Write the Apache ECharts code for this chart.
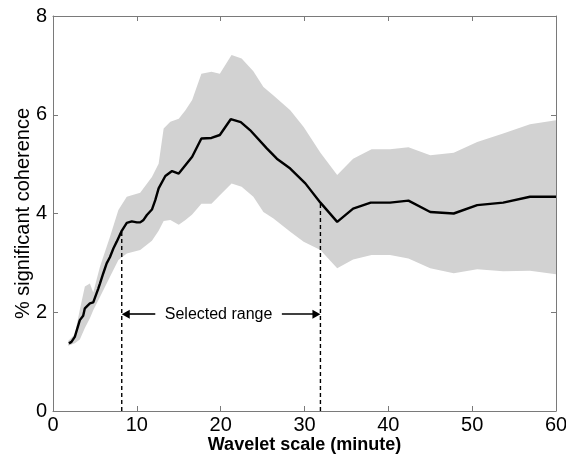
<!DOCTYPE html>
<html>
<head>
<meta charset="utf-8">
<script src="https://cdn.jsdelivr.net/npm/echarts@6/dist/echarts.min.js"></script>
<style>
html,body{margin:0;padding:0;background:#fff;}
#chart{width:566px;height:463px;}
</style>
</head>
<body>
<div id="chart"></div>
<script>
// Mean curve
const lineX = [1.9, 2.2, 2.6, 3.2, 3.6, 3.8, 4.4, 4.8, 5.4, 5.6, 6.0, 6.4, 6.8, 7.2, 7.6, 8.2, 8.8, 9.4, 10.0, 10.4, 10.8, 11.2, 11.8, 12.2, 12.6, 13.4, 14.2, 15.0, 16.6, 17.7, 18.9, 19.9, 21.2, 22.4, 23.5, 25.5, 26.7, 28.3, 30.1, 31.9, 33.9, 35.8, 37.9, 40.2, 42.4, 45.0, 47.8, 50.6, 53.7, 56.9, 60];
const lineY = [1.37, 1.40, 1.50, 1.84, 1.93, 2.08, 2.18, 2.20, 2.48, 2.58, 2.79, 2.99, 3.12, 3.29, 3.43, 3.65, 3.81, 3.84, 3.82, 3.82, 3.87, 3.97, 4.08, 4.27, 4.51, 4.76, 4.86, 4.81, 5.15, 5.52, 5.53, 5.59, 5.91, 5.85, 5.69, 5.32, 5.11, 4.91, 4.61, 4.22, 3.83, 4.10, 4.22, 4.22, 4.26, 4.03, 4.00, 4.17, 4.22, 4.34, 4.34];

// Shaded band
const bandX = [1.8, 2.6, 3.2, 3.8, 4.4, 4.8, 5.6, 6.8, 7.8, 8.8, 10.4, 11.8, 12.6, 13.2, 14.0, 15.0, 15.8, 16.6, 17.7, 18.9, 19.9, 21.3, 22.5, 23.9, 25.1, 26.3, 28.3, 29.9, 31.9, 33.9, 35.8, 38.0, 40.2, 42.4, 45.0, 47.8, 50.6, 53.7, 56.9, 60];
const bandUpper = [1.42, 1.55, 2.05, 2.52, 2.58, 2.40, 2.92, 3.53, 4.07, 4.34, 4.42, 4.74, 5.01, 5.72, 5.86, 5.92, 6.09, 6.30, 6.83, 6.87, 6.83, 7.21, 7.14, 6.88, 6.56, 6.39, 6.09, 5.75, 5.23, 4.78, 5.11, 5.30, 5.30, 5.34, 5.18, 5.23, 5.45, 5.62, 5.81, 5.89];
const bandLower = [1.32, 1.37, 1.45, 1.68, 1.88, 2.04, 2.31, 2.72, 3.06, 3.19, 3.26, 3.45, 3.65, 3.85, 3.87, 3.77, 3.87, 3.98, 4.20, 4.20, 4.37, 4.61, 4.54, 4.34, 4.03, 3.90, 3.63, 3.43, 3.26, 2.89, 3.07, 3.16, 3.16, 3.09, 2.89, 2.79, 2.87, 2.83, 2.84, 2.77];

// Selected range annotation
const rangeX = [8.2, 31.9];
const rangeTop = [3.65, 4.22];
const arrowY = 1.96;
const arrowInner = [12.2, 27.3];
const rangeLabel = 'Selected range';
const rangeLabelX = 19.75;

const xTicks = {min: 0, max: 60, interval: 10};
const yTicks = {min: 0, max: 8, interval: 2};

const FONT = 'Liberation Sans, Arial, sans-serif';
const AX = '#7a7a7a';
const GRID = {left: 53, right: 10, top: 16, bottom: 52};
const W = 566;
const HEAD = [9, 8]; // arrow head: width, length (px)

const chart = echarts.init(document.getElementById('chart'), null, {renderer: 'canvas'});

const bandData = bandX.map((x, i) => [x, bandLower[i], bandUpper[i]]);

// shift arrow ends so the tip (not the symbol centre) meets the dashed lines
const unitsPerPx = (xTicks.max - xTicks.min) / (W - GRID.left - GRID.right);
const tipShift = HEAD[1] / 2 * unitsPerPx;

const axisCommon = {
  axisLine: {show: true, onZero: false, lineStyle: {color: AX, width: 1}},
  axisTick: {show: true, inside: true, length: 5, lineStyle: {color: AX}},
  splitLine: {show: false},
  nameMoveOverlap: false
};

chart.setOption({
  animation: false,
  backgroundColor: '#fff',
  grid: Object.assign({containLabel: false, outerBoundsMode: 'none'}, GRID),
  xAxis: [
    Object.assign({
      type: 'value', min: xTicks.min, max: xTicks.max, interval: xTicks.interval,
      position: 'bottom',
      name: 'Wavelet scale (minute)', nameLocation: 'middle', nameGap: 25,
      nameTextStyle: {fontFamily: FONT, fontSize: 18, fontWeight: 'bold', color: '#000'},
      axisLabel: {fontFamily: FONT, fontSize: 20, color: '#000', margin: 4}
    }, axisCommon),
    Object.assign({
      type: 'value', min: xTicks.min, max: xTicks.max, interval: xTicks.interval,
      position: 'top', axisLabel: {show: false}
    }, axisCommon)
  ],
  yAxis: [
    Object.assign({
      type: 'value', min: yTicks.min, max: yTicks.max, interval: yTicks.interval,
      position: 'left',
      name: '% significant coherence', nameLocation: 'middle', nameGap: 20,
      nameTextStyle: {fontFamily: FONT, fontSize: 20, color: '#000'},
      axisLabel: {fontFamily: FONT, fontSize: 20, color: '#000', margin: 6}
    }, axisCommon),
    Object.assign({
      type: 'value', min: yTicks.min, max: yTicks.max, interval: yTicks.interval,
      position: 'right', axisLabel: {show: false}
    }, axisCommon)
  ],
  series: [
    {
      type: 'custom',
      silent: true,
      z: 1,
      data: bandData,
      encode: {x: 0, y: [1, 2]},
      renderItem: function (params, api) {
        if (params.dataIndex !== 0) return null;
        const pts = [];
        for (let i = 0; i < bandData.length; i++) pts.push(api.coord([bandData[i][0], bandData[i][2]]));
        for (let i = bandData.length - 1; i >= 0; i--) pts.push(api.coord([bandData[i][0], bandData[i][1]]));
        return {type: 'polygon', shape: {points: pts}, style: {fill: '#d2d2d2', stroke: null}};
      }
    },
    {
      type: 'line',
      z: 3,
      silent: true,
      showSymbol: false,
      symbol: 'none',
      data: lineX.map((x, i) => [x, lineY[i]]),
      lineStyle: {color: '#000', width: 2.4}
    },
    {
      type: 'line',
      z: 2,
      silent: true,
      symbol: 'none',
      data: [[rangeX[0], 0], [rangeX[0], rangeTop[0]]],
      lineStyle: {color: '#000', width: 1.4, type: [4, 3]}
    },
    {
      type: 'line',
      z: 2,
      silent: true,
      symbol: 'none',
      data: [[rangeX[1], 0], [rangeX[1], rangeTop[1]]],
      lineStyle: {color: '#000', width: 1.4, type: [4, 3]}
    },
    {
      type: 'scatter',
      z: 4,
      silent: true,
      symbolSize: 0,
      itemStyle: {opacity: 1, color: '#000'},
      data: [[rangeLabelX, arrowY]],
      label: {show: true, position: 'inside', formatter: rangeLabel, fontFamily: FONT, fontSize: 16, color: '#000', opacity: 1},
      markLine: {
        silent: true,
        animation: false,
        symbol: ['none', 'triangle'],
        symbolSize: HEAD,
        label: {show: false},
        lineStyle: {color: '#000', width: 1.6, type: 'solid', opacity: 1},
        data: [
          [{coord: [arrowInner[0], arrowY]}, {coord: [rangeX[0] + tipShift, arrowY]}],
          [{coord: [arrowInner[1], arrowY]}, {coord: [rangeX[1] - tipShift, arrowY]}]
        ]
      }
    }
  ]
});
</script>
</body>
</html>
